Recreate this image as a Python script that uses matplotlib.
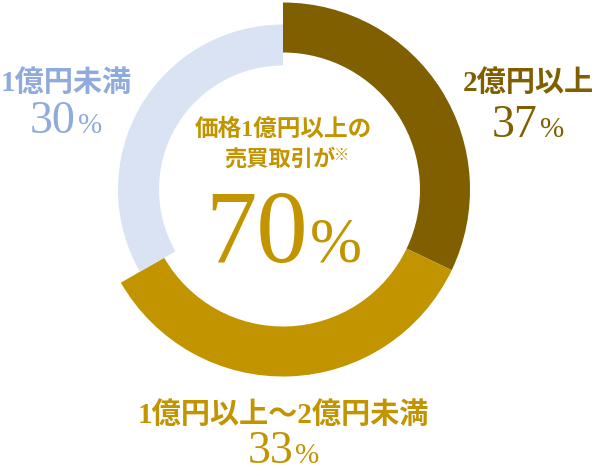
import matplotlib
matplotlib.use("Agg")
import matplotlib.pyplot as plt

# labelled shares (text) and arc sizes as they are drawn in the picture
categories = ["2億円以上", "1億円以上～2億円未満", "1億円未満"]
shares = [37, 33, 30]
arc_share = [32.1, 34.6, 33.3]
center_title = ["価格1億円以上の", "売買取引が"]
center_value = 70

ring_colors = ["#7F5F00", "#C29400", "#DAE3F3"]
text_colors = ["#7F5F00", "#C29400", "#8FAADC"]

FONTS = ["Liberation Serif", "Noto Sans CJK JP", "DejaVu Sans"]
H = 472  # figure height in px, used to flip y so positions read like the picture

fig = plt.figure(figsize=(6.0, 4.72), dpi=100)
ax = fig.add_axes([0, 0, 1, 1])

# donut, clockwise from twelve o'clock
cx, cy = 283, H - 189.5
wedges, _ = ax.pie(arc_share, colors=ring_colors, startangle=90, counterclock=False,
                   radius=187, center=(cx, cy), frame=True,
                   wedgeprops=dict(width=50, linewidth=0))
# the light segment sits on a thinner, smaller ring
wedges[2].set_radius(165)
wedges[2].set_width(41)
ax.set_xlim(0, 600)
ax.set_ylim(0, H)
ax.set_aspect("equal")
ax.axis("off")


def label(x, y_name, y_num, name, value, color):
    # category name then the share, with a smaller percent sign
    ax.text(x, H - y_name, name, ha="center", va="baseline", fontsize=21,
            fontweight="bold", color=color, family=FONTS)
    ax.text(x + 10, H - y_num, str(value), ha="right", va="baseline", fontsize=33,
            color=color, family=FONTS)
    ax.text(x + 12, H - y_num, "%", ha="left", va="baseline", fontsize=21,
            color=color, family=FONTS)


label(528, 91, 137, categories[0], shares[0], text_colors[0])
label(283, 423, 463, categories[1], shares[1], text_colors[1])
label(66, 91, 133, categories[2], shares[2], text_colors[2])

# centre text
ax.text(283, H - 136, center_title[0], ha="center", va="baseline", fontsize=17,
        fontweight="bold", color=text_colors[1], family=FONTS)
ax.text(280, H - 166, center_title[1], ha="center", va="baseline", fontsize=16,
        fontweight="bold", color=text_colors[1], family=FONTS)
ax.text(342, H - 156, "※", ha="center", va="center", fontsize=11,
        color=text_colors[1], family=FONTS)
ax.text(308, H - 262, str(center_value), ha="right", va="baseline", fontsize=74,
        color=text_colors[1], family=FONTS)
ax.text(310, H - 262, "%", ha="left", va="baseline", fontsize=45,
        color=text_colors[1], family=FONTS)

fig.savefig("out.png", dpi=100)
plt.close(fig)
